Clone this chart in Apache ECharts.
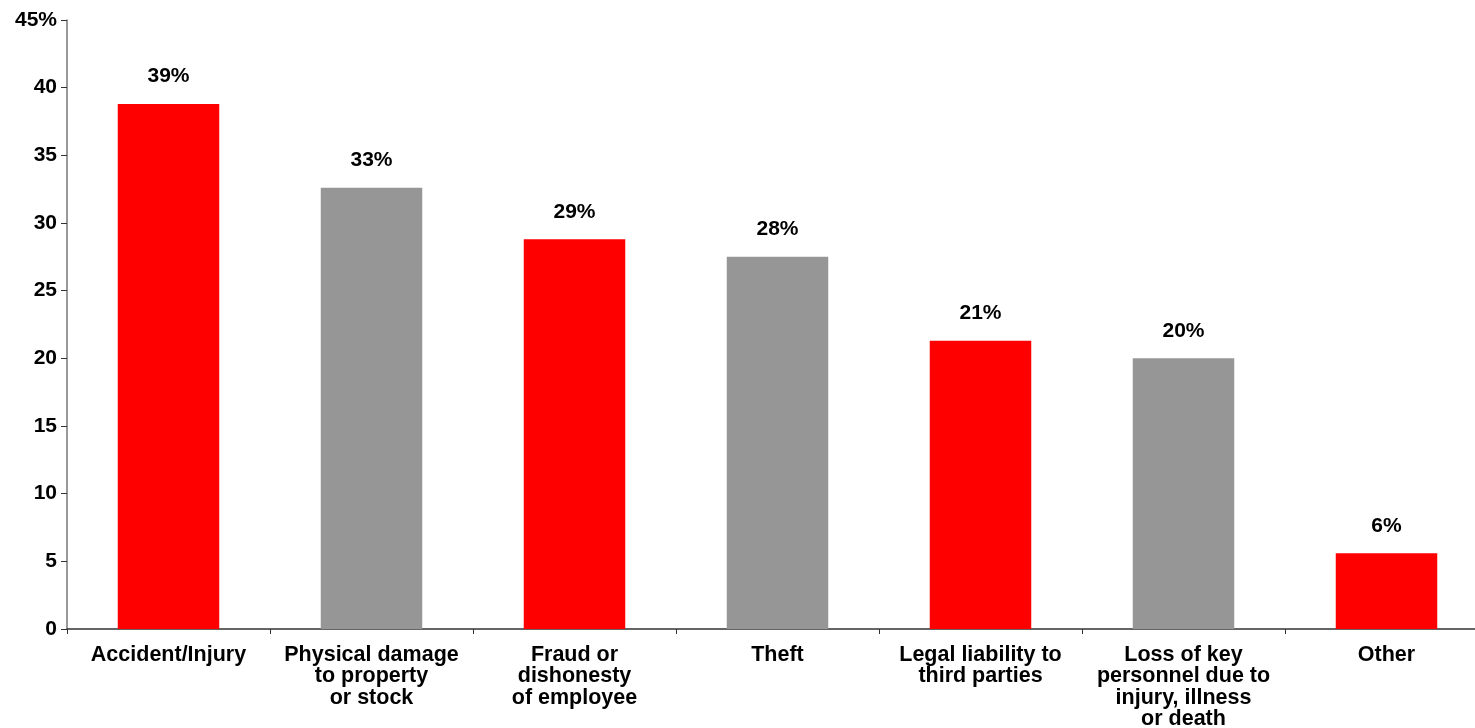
<!DOCTYPE html>
<html>
<head>
<meta charset="utf-8">
<style>
  html, body { margin: 0; padding: 0; background: #fff; overflow: hidden; }
  #chart { width: 1475px; height: 728px; }
</style>
<script src="https://cdn.jsdelivr.net/npm/echarts@6/dist/echarts.min.js"></script>
</head>
<body>
<div id="chart"></div>
<script>
// Share of respondents citing each risk (%)
const categories = [
  'Accident/Injury',
  'Physical damage\nto property\nor stock',
  'Fraud or\ndishonesty\nof employee',
  'Theft',
  'Legal liability to\nthird parties',
  'Loss of key\npersonnel due to\ninjury, illness\nor death',
  'Other'
];
const values = [38.8, 32.6, 28.8, 27.5, 21.3, 20.0, 5.6];
const barColors = ['#FF0000', '#969696', '#FF0000', '#969696', '#FF0000', '#969696', '#FF0000'];
const yTicks = [0, 5, 10, 15, 20, 25, 30, 35, 40, 45];

const FONT = 'Liberation Sans, Arial, sans-serif';
const chart = echarts.init(document.getElementById('chart'));
chart.setOption({
  animation: false,
  // the plot runs slightly past the right edge of the canvas
  grid: {
    left: 67, top: 20, width: 1421, height: 609,
    containLabel: false, outerBoundsMode: 'none'
  },
  xAxis: {
    type: 'category',
    data: categories,
    axisLine: { lineStyle: { color: '#333', width: 1.5 } },
    axisTick: { show: true, length: 5, alignWithLabel: false, lineStyle: { color: '#333' } },
    axisLabel: {
      interval: 0, margin: 15, color: '#000', fontFamily: FONT,
      fontWeight: 'bold', fontSize: 21.5, lineHeight: 21.5
    }
  },
  yAxis: {
    type: 'value',
    min: yTicks[0], max: yTicks[yTicks.length - 1], interval: 5,
    splitLine: { show: false },
    axisLine: { show: true, lineStyle: { color: '#777', width: 1.5 } },
    axisTick: { show: true, length: 6, lineStyle: { color: '#333' } },
    axisLabel: {
      margin: 10, color: '#000', fontFamily: FONT, fontWeight: 'bold', fontSize: 21,
      formatter: v => v === yTicks[yTicks.length - 1] ? v + '%' : String(v)
    }
  },
  series: [{
    type: 'bar',
    barWidth: '50%',
    data: values.map((v, i) => ({ value: v, itemStyle: { color: barColors[i] } })),
    label: {
      show: true, position: 'top', distance: 17,
      color: '#000', fontFamily: FONT, fontWeight: 'bold', fontSize: 21,
      formatter: p => Math.round(p.value) + '%'
    }
  }]
});
</script>
</body>
</html>
